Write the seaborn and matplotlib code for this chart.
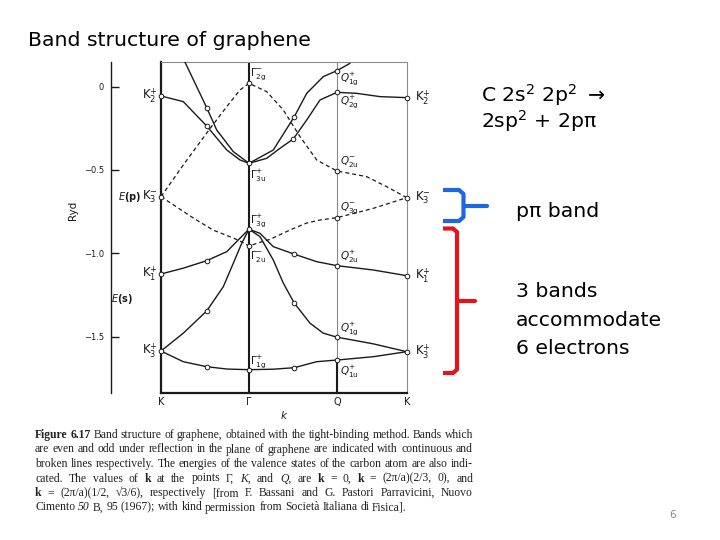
import matplotlib
matplotlib.use("Agg")
import matplotlib.pyplot as plt
from matplotlib.lines import Line2D
import seaborn as sns

sns.set_theme(style="white")
plt.rcParams["font.family"] = ["DejaVu Sans"]
plt.rcParams["mathtext.default"] = "regular"
plt.rcParams["text.color"] = "black"

W, H = 720, 540          # output size in pixels (dpi 100)
INK = "#1a1a1a"

# --- path through the Brillouin zone (K-Gamma spacing = 1) -------------------
SYM_K = [0.0, 1.0, 2.0, 2.792]
SYM_LABELS = ["K", "Γ", "Q", "K"]
E_LIM = (-1.836, 0.146)
E_TICKS = [0.0, -0.5, -1.0, -1.5]
E_TICK_LABELS = ["0", "\u22120.5", "\u22121.0", "\u22121.5"]

# --- continuous lines: bands even under reflection (Ryd) ---------------------
S1_K = [0.261, 0.519, 0.633, 0.822, 1.0, 1.276, 1.515, 1.656, 1.844, 2.0, 2.148]
S1_E = [0.160, -0.126, -0.260, -0.390, -0.460, -0.380, -0.180, -0.040, 0.060, 0.096, 0.140]
S2_K = [0.0, 0.253, 0.519, 0.747, 0.898, 1.0, 1.201, 1.352, 1.503, 1.656, 1.807, 2.0, 2.22, 2.49, 2.792]
S2_E = [-0.056, -0.090, -0.236, -0.380, -0.440, -0.460, -0.430, -0.370, -0.314, -0.200, -0.080,
        -0.034, -0.040, -0.060, -0.066]
S3_K = [0.0, 0.253, 0.519, 0.747, 0.898, 1.0, 1.125, 1.276, 1.515, 1.769, 2.0, 2.413, 2.792]
S3_E = [-1.124, -1.089, -1.044, -0.990, -0.909, -0.855, -0.880, -0.960, -1.005, -1.050, -1.074,
        -1.100, -1.134]
S4_K = [0.0, 0.253, 0.519, 0.708, 0.822, 0.917, 1.0, 1.125, 1.276, 1.390, 1.515, 1.693, 1.844,
        2.0, 2.413, 2.792]
S4_E = [-1.586, -1.479, -1.346, -1.200, -1.059, -0.940, -0.855, -0.900, -1.040, -1.179, -1.299,
        -1.419, -1.479, -1.503, -1.543, -1.590]
S5_K = [0.0, 0.253, 0.519, 0.747, 1.0, 1.276, 1.515, 1.769, 2.0, 2.413, 2.792]
S5_E = [-1.586, -1.650, -1.680, -1.694, -1.698, -1.695, -1.686, -1.650, -1.640, -1.620, -1.590]

# --- broken lines: bands odd under reflection --------------------------------
D1_K = [0.0, 0.253, 0.545, 0.747, 0.898, 1.0, 1.201, 1.390, 1.580, 1.769, 2.0, 2.337, 2.564, 2.792]
D1_E = [-0.660, -0.470, -0.260, -0.120, -0.020, 0.020, -0.030, -0.140, -0.300, -0.440, -0.506,
        -0.540, -0.600, -0.666]
D2_K = [0.0, 0.367, 0.590, 0.822, 0.920, 1.0, 1.100, 1.239, 1.466, 1.656, 1.807, 2.0, 2.413, 2.792]
D2_E = [-0.660, -0.788, -0.860, -0.908, -0.932, -0.956, -0.938, -0.916, -0.860, -0.818, -0.800,
        -0.786, -0.730, -0.666]

# --- computed points (open circles) -----------------------------------------
DOT_K = [0, 0, 0, 0,
         0.519, 0.519, 0.519, 0.519, 0.519,
         1, 1, 1, 1, 1,
         1.515, 1.503, 1.515, 1.515, 1.515,
         2, 2, 2, 2, 2, 2, 2,
         2.792, 2.792, 2.792, 2.792]
DOT_E = [-0.056, -0.660, -1.124, -1.586,
         -0.126, -0.236, -1.044, -1.346, -1.680,
         0.020, -0.460, -0.855, -0.956, -1.698,
         -0.180, -0.314, -1.005, -1.299, -1.686,
         0.096, -0.034, -0.506, -0.786, -1.074, -1.503, -1.640,
         -0.066, -0.666, -1.134, -1.590]

# --- symmetry labels: (energy, subscript, sign, pixel offset down) ----------
K_LEFT = [(-0.056, "2", "+"), (-0.660, "3", "-"), (-1.124, "1", "+"), (-1.586, "3", "+")]
K_RIGHT = [(-0.066, "2", "+"), (-0.666, "3", "-"), (-1.134, "1", "+"), (-1.590, "3", "+")]
G_LABELS = [(0.020, "2g", "-", -9), (-0.460, "3u", "+", 13), (-0.855, "3g", "+", -9),
            (-0.956, "2u", "-", 10), (-1.698, "1g", "+", -8)]
Q_LABELS = [(0.096, "1g", "+", 8), (-0.034, "2g", "+", 9), (-0.506, "2u", "-", -9),
            (-0.786, "3g", "-", -9), (-1.074, "2u", "+", -9), (-1.503, "1g", "+", -9),
            (-1.640, "1u", "+", 12)]

CAPTION = [
    "Figure 6.17 Band structure of graphene, obtained with the tight-binding method. Bands which",
    "are even and odd under reflection in the plane of graphene are indicated with continuous and",
    "broken lines respectively. The energies of the valence states of the carbon atom are also indi-",
    "cated. The values of k at the points Γ, K, and Q, are k = 0, k = (2π/a)(2/3, 0), and",
    "k = (2π/a)(1/2, √3/6), respectively [from F. Bassani and G. Pastori Parravicini, Nuovo",
    "Cimento 50 B, 95 (1967); with kind permission from Società Italiana di Fisica].",
]
CAP_Y = [435, 449.5, 464, 478.5, 493, 507.5]


def box(x0, y0, x1, y1):
    return [x0 / W, 1 - y1 / H, (x1 - x0) / W, (y1 - y0) / H]


def fx(x):
    return x / W


def fy(y):
    return 1 - y / H


fig = plt.figure(figsize=(7.2, 5.4), dpi=100)
fig.patch.set_facecolor("white")

# ---- band-structure panel ----
ax = fig.add_axes(box(161, 62.3, 406.7, 392.7))
ax.set_xlim(SYM_K[0], SYM_K[-1])
ax.set_ylim(*E_LIM)
ax.set_facecolor("white")
for side, lw, col in [("left", 1.6, INK), ("bottom", 1.6, INK), ("top", 0.8, "#8a8a8a"),
                      ("right", 0.8, "#8a8a8a")]:
    ax.spines[side].set_visible(True)
    ax.spines[side].set_linewidth(lw)
    ax.spines[side].set_color(col)
ax.set_yticks([])
ax.set_xticks(SYM_K)
ax.set_xticklabels(SYM_LABELS, fontsize=7, color=INK)
ax.tick_params(axis="x", length=0, pad=3)
ax.set_xlabel("k", style="italic", fontsize=7.5, color=INK, labelpad=3)
ax.grid(False)

ax.axvline(SYM_K[1], color=INK, lw=1.5, zorder=1)
ax.axvline(SYM_K[2], color="#8a8a8a", lw=0.8, zorder=1)
ax.plot([SYM_K[2], SYM_K[2]], [E_LIM[0], S5_E[8]], color=INK, lw=1.5, zorder=1)

for kk, ee in [(S1_K, S1_E), (S2_K, S2_E), (S3_K, S3_E), (S4_K, S4_E), (S5_K, S5_E)]:
    sns.lineplot(x=kk, y=ee, ax=ax, sort=False, estimator=None, color=INK, lw=1.0, zorder=3)
for kk, ee in [(D1_K, D1_E), (D2_K, D2_E)]:
    sns.lineplot(x=kk, y=ee, ax=ax, sort=False, estimator=None, color=INK, lw=0.9,
                 linestyle=(0, (3.2, 2.4)), zorder=3)
sns.scatterplot(x=DOT_K, y=DOT_E, ax=ax, marker="o", s=11, facecolor="white",
                edgecolor=INK, linewidth=0.7, zorder=5, clip_on=False)

PX = 0.72  # points per pixel
for e, sub, sgn in K_LEFT:
    ax.annotate(f"$K_{{{sub}}}^{{{sgn}}}$", (SYM_K[0], e), xytext=(-3 * PX, 0),
                textcoords="offset points", ha="right", va="center", fontsize=8.5, color=INK,
                annotation_clip=False)
for e, sub, sgn in K_RIGHT:
    ax.annotate(f"$K_{{{sub}}}^{{{sgn}}}$", (SYM_K[-1], e), xytext=(8 * PX, 0),
                textcoords="offset points", ha="left", va="center", fontsize=8.5, color=INK,
                annotation_clip=False)
for e, sub, sgn, dy in G_LABELS:
    ax.annotate(f"$\\Gamma_{{{sub}}}^{{{sgn}}}$", (SYM_K[1], e), xytext=(0.5 * PX, -dy * PX),
                textcoords="offset points", ha="left", va="center", fontsize=7.5, color=INK)
for e, sub, sgn, dy in Q_LABELS:
    ax.annotate(f"$\\mathit{{Q}}_{{{sub}}}^{{{sgn}}}$", (SYM_K[2], e), xytext=(2.5 * PX, -dy * PX),
                textcoords="offset points", ha="left", va="center", fontsize=7.5, color=INK)

# ---- separate energy scale (Ryd) ----
axr = fig.add_axes(box(110.7, 62.3, 111.7, 392.7))
axr.set_ylim(*E_LIM)
axr.set_facecolor("none")
for side in ["top", "right", "bottom"]:
    axr.spines[side].set_visible(False)
axr.spines["left"].set_visible(True)
axr.spines["left"].set_color(INK)
axr.spines["left"].set_linewidth(1.0)
axr.set_xticks([])
axr.set_yticks(E_TICKS)
axr.set_yticklabels(E_TICK_LABELS, fontsize=6, color=INK)
axr.tick_params(axis="y", direction="in", length=6, width=1.0, color=INK, pad=5, left=True)
axr.grid(False)

fig.text(fx(73), fy(210), "Ryd", rotation=90, ha="center", va="center", fontsize=7.5, color=INK)
fig.text(fx(141), fy(197), "$\\mathit{E}$(p)", ha="right", va="center", fontsize=7, color=INK,
         weight="bold")
fig.text(fx(133), fy(299), "$\\mathit{E}$(s)", ha="right", va="center", fontsize=7, color=INK,
         weight="bold")

# ---- slide text ----
SLIDE_FS = 14.7
fig.text(fx(28), fy(46.5), "Band structure of graphene", fontsize=SLIDE_FS, va="baseline")
fig.text(fx(481), fy(101.7), "C 2s$^{2}$ 2p$^{2}$ $\\rightarrow$", fontsize=SLIDE_FS, va="baseline")
fig.text(fx(481), fy(128.3), "2sp$^{2}$ + 2pπ", fontsize=SLIDE_FS, va="baseline")
fig.text(fx(516), fy(217.3), "pπ band", fontsize=SLIDE_FS, va="baseline")
for y, s in [(297.3, "3 bands"), (325.7, "accommodate"), (354.3, "6 electrons")]:
    fig.text(fx(516), fy(y), s, fontsize=SLIDE_FS, va="baseline")
fig.text(fx(673), fy(515), "6", fontsize=7.5, color="#8a8a8a", ha="center", va="center")

# brackets
blue = "#1c68e0"
red = "#e3141b"
fig.add_artist(Line2D([fx(443), fx(459), fx(463.5), fx(463.5), fx(459), fx(443)],
                      [fy(190), fy(190), fy(194), fy(217), fy(221), fy(221)],
                      color=blue, lw=3.0, solid_joinstyle="round", solid_capstyle="butt"))
fig.add_artist(Line2D([fx(463.5), fx(487)], [fy(205.7), fy(205.7)], color=blue, lw=3.0))
fig.add_artist(Line2D([fx(443), fx(453), fx(457), fx(457), fx(453), fx(443)],
                      [fy(228.5), fy(228.5), fy(232), fy(369.5), fy(373), fy(373)],
                      color=red, lw=3.0, solid_joinstyle="round", solid_capstyle="butt"))
fig.add_artist(Line2D([fx(457), fx(475)], [fy(301), fy(301)], color=red, lw=3.0))

# ---- justified caption ----
CAP_L, CAP_R = 35, 473
fig.canvas.draw()
renderer = fig.canvas.get_renderer()

# size the serif caption so the longest plain line nearly fills the column
probe = fig.text(0, 0, CAPTION[1], fontsize=8, family="Liberation Serif")
cap_fs = 8 * (CAP_R - CAP_L) / probe.get_window_extent(renderer).width * 0.985
probe.remove()

for i, line in enumerate(CAPTION):
    words = line.split(" ")
    parts = []
    for j, w in enumerate(words):
        bold = (i == 0 and j < 2) or w == "k"
        italic = w in ("K,", "Q,", "50")
        t = fig.text(0, fy(CAP_Y[i]), w, fontsize=cap_fs, family="Liberation Serif",
                     weight="bold" if bold else "normal",
                     style="italic" if italic else "normal", va="center", color="#222222")
        parts.append(t)
    widths = [t.get_window_extent(renderer).width for t in parts]
    if i < len(CAPTION) - 1:
        gap = (CAP_R - CAP_L - sum(widths)) / (len(words) - 1)
    else:
        gap = 0.25 * cap_fs / 0.72
    x = CAP_L
    for t, wd in zip(parts, widths):
        t.set_x(fx(x))
        x += wd + gap

fig.savefig("out.png", dpi=100)
